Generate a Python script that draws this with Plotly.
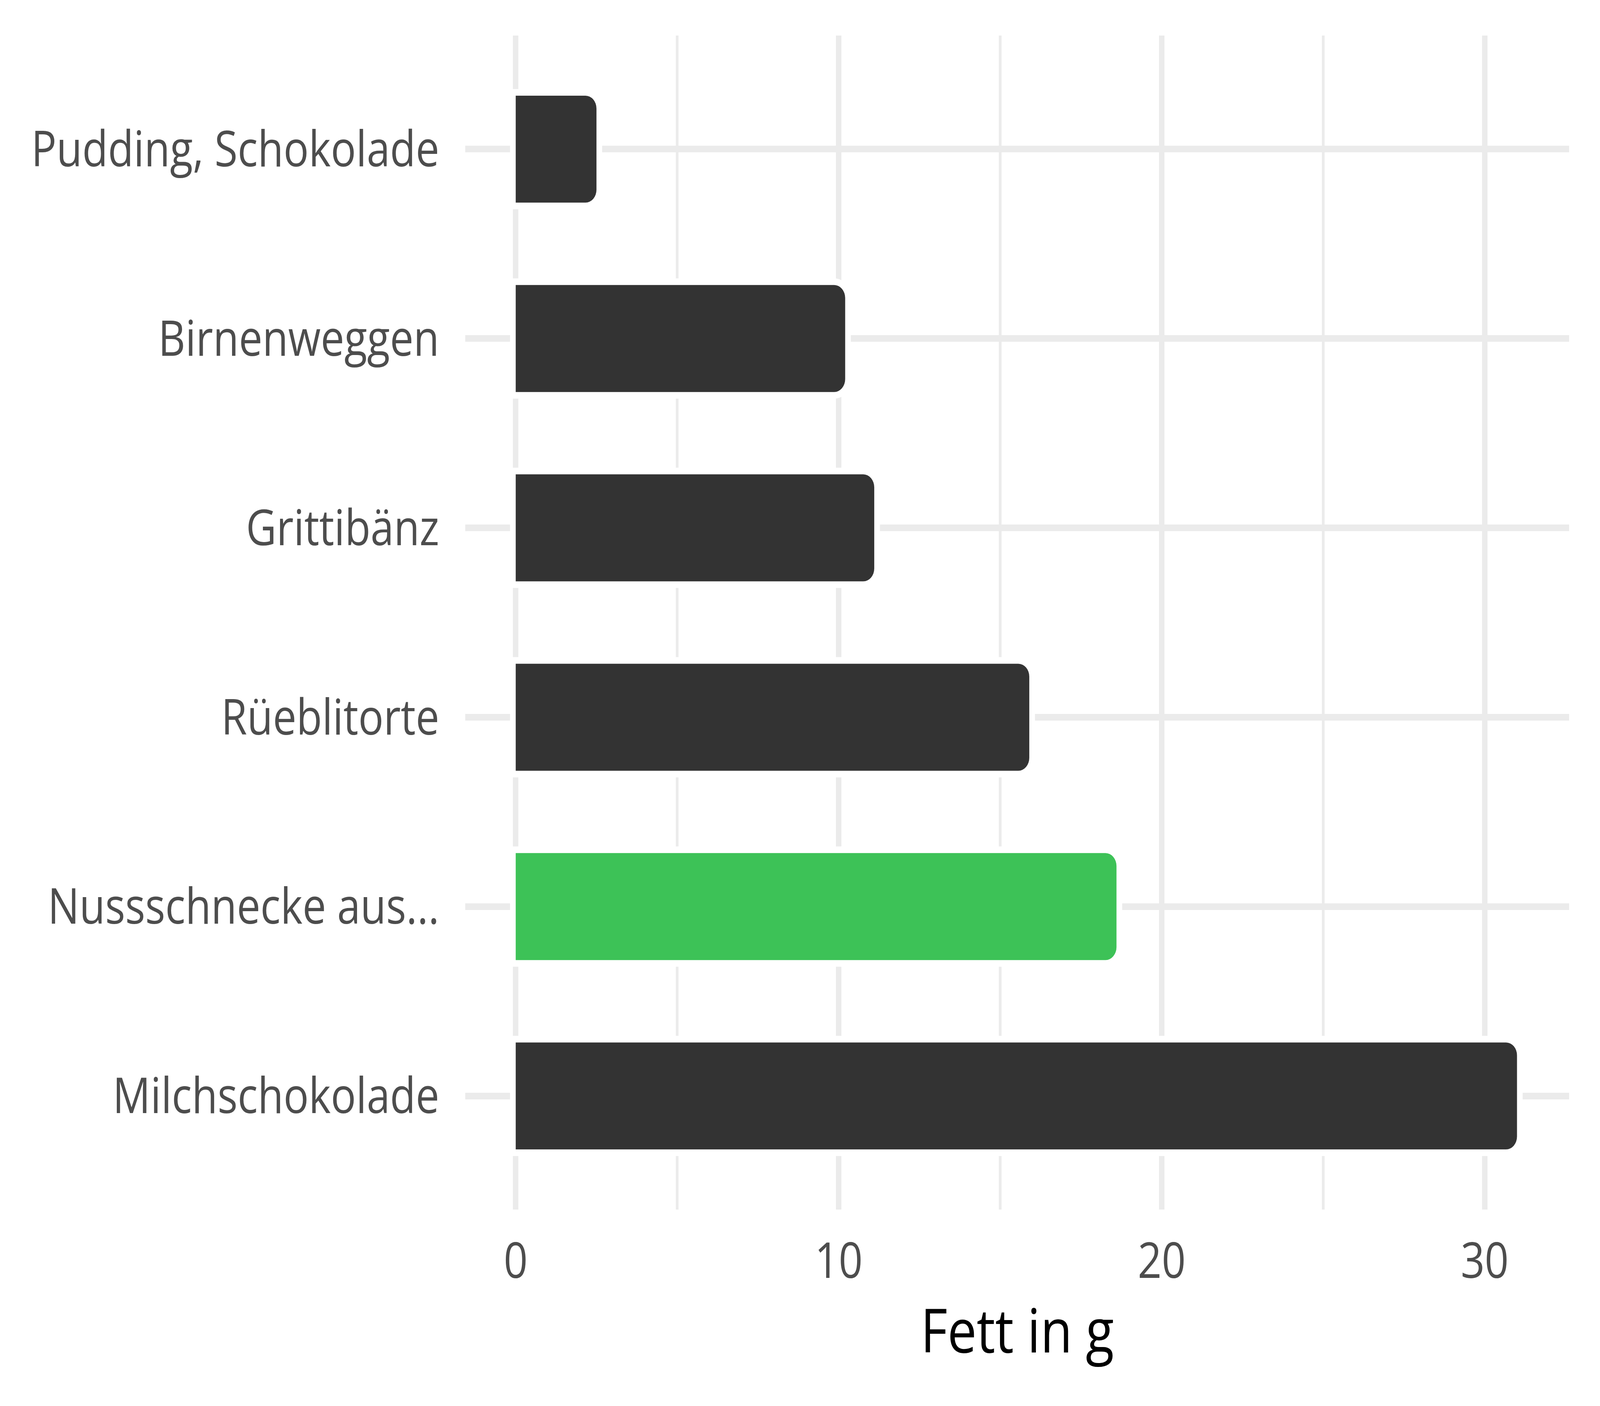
import plotly.graph_objects as go

categories = ["Pudding, Schokolade", "Birnenweggen", "Grittibänz", "Rüeblitorte",
              "Nussschnecke aus...", "Milchschokolade"]
fat_g = [2.5, 10.2, 11.1, 15.9, 18.6, 31.0]
highlight = [False, False, False, False, True, False]

DARK = "#333333"
GREEN = "#3DC257"
colors = [GREEN if h else DARK for h in highlight]

BAR_W = 0.565
RADIUS = 33
FIG_W, FIG_H = 4800, 3600

fig = go.Figure()
# white halo under the bars (gap in the gridlines around each bar)
fig.add_trace(go.Bar(
    x=fat_g, y=categories, orientation="h", width=BAR_W,
    marker=dict(color="white", line=dict(color="white", width=34), cornerradius=RADIUS),
    hoverinfo="skip", showlegend=False,
))
fig.add_trace(go.Bar(
    x=fat_g, y=categories, orientation="h", width=BAR_W,
    marker=dict(color=colors, line=dict(width=0), cornerradius=RADIUS),
    showlegend=False,
))

fig.update_layout(
    width=FIG_W, height=FIG_H,
    margin=dict(l=1396, r=92, t=91, b=503, autoexpand=False),
    paper_bgcolor="white", plot_bgcolor="white",
    barmode="overlay",
    font=dict(family="Open Sans", size=126, color="#4D4D4D"),
    xaxis=dict(
        range=[-1.56, 32.62],
        tickvals=[0, 10, 20, 30],
        showgrid=True, gridcolor="#EBEBEB", gridwidth=17,
        minor=dict(tickvals=[5, 15, 25], showgrid=True, gridcolor="#EBEBEB", gridwidth=8),
        zeroline=False, showline=False,
        ticks="outside", ticklen=23, tickcolor="rgba(0,0,0,0)",
        tickfont=dict(size=126, color="#4D4D4D"),
        title=dict(text="Fett in g", font=dict(size=156, color="black"), standoff=45),
    ),
    yaxis=dict(
        type="category",
        categoryorder="array", categoryarray=categories,
        range=[5.6, -0.6],
        showgrid=True, gridcolor="#EBEBEB", gridwidth=17,
        zeroline=False, showline=False,
        ticks="outside", ticklen=52, tickcolor="rgba(0,0,0,0)",
        tickfont=dict(size=126, color="#4D4D4D"),
    ),
)

# fit the 4800x3600 figure into whatever viewport the browser really has
fit_js = """
(function(){
  var gd = document.getElementById('{plot_id}');
  document.documentElement.style.margin = '0';
  document.documentElement.style.overflow = 'hidden';
  document.body.style.margin = '0';
  document.body.style.overflow = 'hidden';
  var sx = Math.min(1, window.innerWidth / %d);
  var sy = Math.min(1, window.innerHeight / %d);
  var wrap = gd.parentElement;
  wrap.style.transformOrigin = '0 0';
  wrap.style.transform = 'scale(' + sx + ',' + sy + ')';
})();
""" % (FIG_W, FIG_H)

fig.write_html("out.html", post_script=fit_js, config={"displayModeBar": False})
